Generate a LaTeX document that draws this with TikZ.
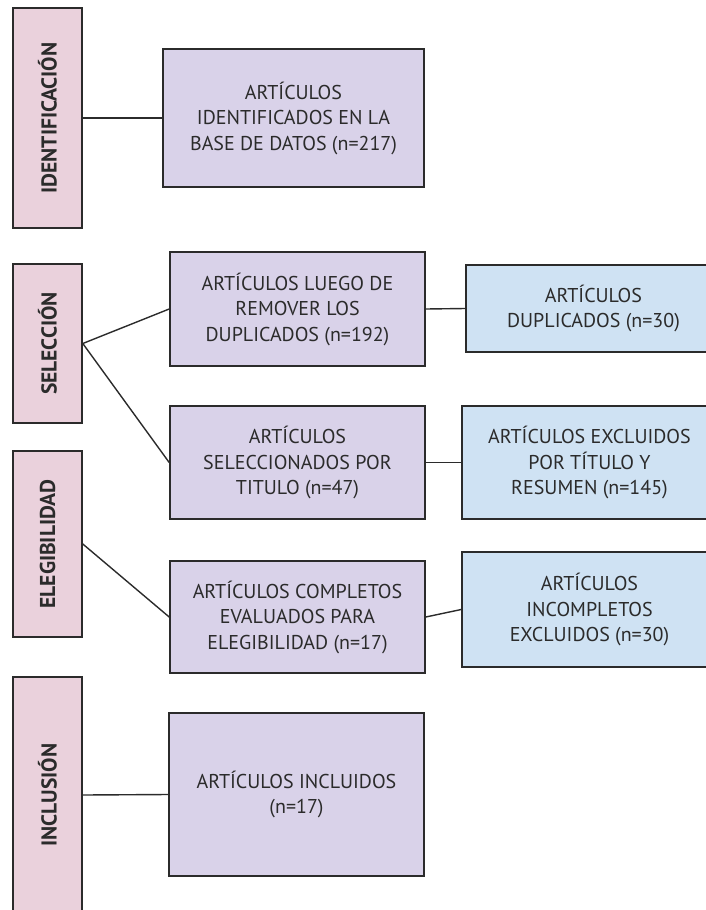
\documentclass[tikz,border=0pt]{standalone}
\usepackage{fontspec}
\setmainfont{PT Sans}

\definecolor{rosa}{HTML}{EAD1DC}
\definecolor{lila}{HTML}{D9D2E9}
\definecolor{celeste}{HTML}{CFE2F3}
\definecolor{borde}{HTML}{2B2B2B}

\tikzset{
  caja/.style={draw=borde, line width=1.6pt, align=center, text=borde,
    inner sep=0pt, font=\fontsize{20}{25.5}\selectfont},
  fase/.style={caja, fill=rosa, minimum width=69pt, font=\fontsize{21.5}{25.5}\selectfont\bfseries},
  paso/.style={caja, fill=lila, minimum width=255pt},
  fuera/.style={caja, fill=celeste, minimum width=255pt},
  linea/.style={draw=borde, line width=1.4pt}
}

\begin{document}
\begin{tikzpicture}[x=1pt,y=-1pt]
\useasboundingbox (0,0) rectangle (706,910);
\clip (0,0) rectangle (706,910);
% fases
\node[fase, minimum height=220pt] (iden) at (47.5,118) {\rotatebox{90}{IDENTIFICACIÓN}};
\node[fase, minimum height=159pt] (sele) at (47.5,343.5) {\rotatebox{90}{SELECCIÓN}};
\node[fase, minimum height=186pt] (eleg) at (47.5,544) {\rotatebox{90}{ELEGIBILIDAD}};
\node[fase, minimum height=236pt] (incl) at (47.5,795) {\rotatebox{90}{INCLUSIÓN}};
% articulos
\node[paso, minimum width=261pt, minimum height=138pt] (base) at (293.5,118) {ARTÍCULOS\\IDENTIFICADOS EN LA\\BASE DE DATOS (n=217)};
\node[paso, minimum height=114pt] (luego) at (297.5,309) {ARTÍCULOS LUEGO DE\\REMOVER LOS\\DUPLICADOS (n=192)};
\node[paso, minimum height=113pt] (titulo) at (297.5,462.5) {ARTÍCULOS\\SELECCIONADOS POR\\TITULO (n=47)};
\node[paso, minimum height=112pt] (completos) at (297.5,617) {ARTÍCULOS COMPLETOS\\EVALUADOS PARA\\ELEGIBILIDAD (n=17)};
\node[paso, minimum height=163pt] (incluidos) at (296.5,794.5) {ARTÍCULOS INCLUIDOS\\(n=17)};
% excluidos
\node[fuera, minimum height=87pt] (dupl) at (593.5,308.5) {ARTÍCULOS\\DUPLICADOS (n=30)};
\node[fuera, minimum height=113pt] (resumen) at (589.5,462.5) {ARTÍCULOS EXCLUIDOS\\POR TÍTULO Y\\RESUMEN (n=145)};
\node[fuera, minimum height=115pt] (incomp) at (589.5,609.5) {ARTÍCULOS\\INCOMPLETOS\\EXCLUIDOS (n=30)};
% conectores
\draw[linea] (iden.east) -- (base.west);
\draw[linea] (sele.east) -- (luego.west);
\draw[linea] (sele.east) -- (titulo.west);
\draw[linea] (eleg.east) -- (completos.west);
\draw[linea] (incl.east) -- (incluidos.west);
\draw[linea] (luego.east) -- (dupl.west);
\draw[linea] (titulo.east) -- (resumen.west);
\draw[linea] (completos.east) -- (incomp.west);
\end{tikzpicture}
\end{document}
